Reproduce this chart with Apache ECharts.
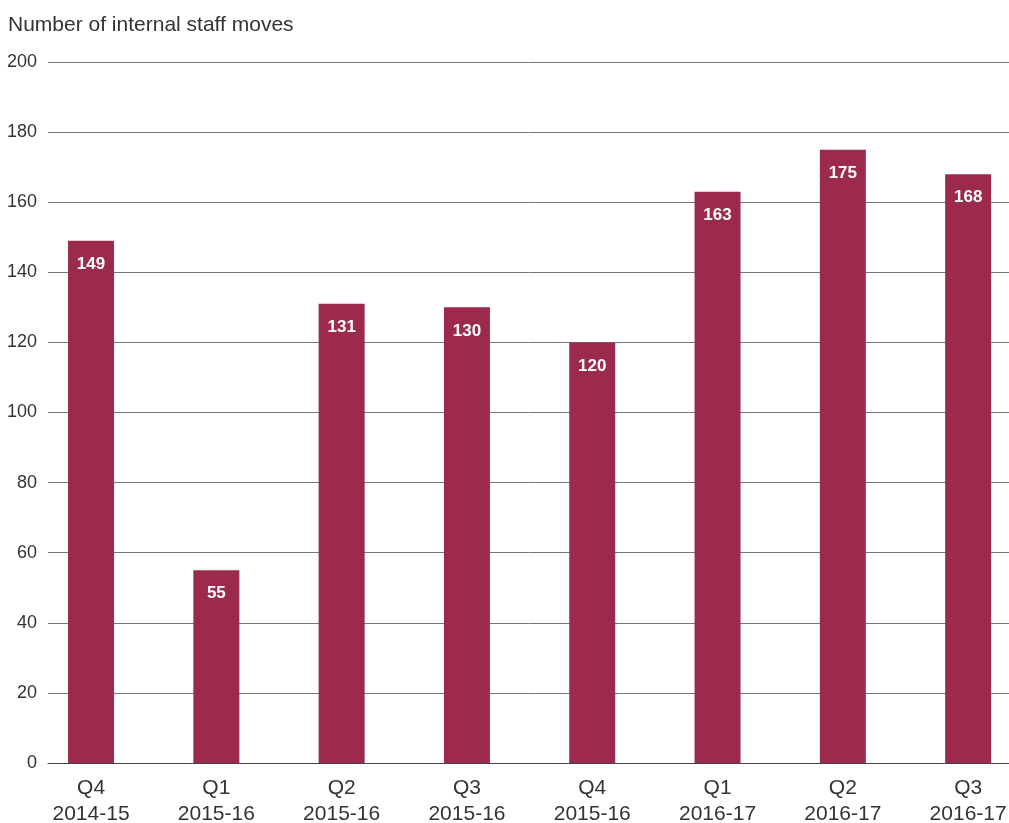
<!DOCTYPE html>
<html>
<head>
<meta charset="utf-8">
<script src="https://cdn.jsdelivr.net/npm/echarts@6/dist/echarts.min.js"></script>
<style>
  html, body { margin: 0; padding: 0; background: #fff; }
  #chart { width: 1009px; height: 823px; }
</style>
</head>
<body>
<div id="chart"></div>
<script>
// quarters shown on the x axis
var categories = ['Q4\n2014-15', 'Q1\n2015-16', 'Q2\n2015-16', 'Q3\n2015-16',
                  'Q4\n2015-16', 'Q1\n2016-17', 'Q2\n2016-17', 'Q3\n2016-17'];
// number of moves per quarter
var moves = [149, 55, 131, 130, 120, 163, 175, 168];
var yMin = 0, yMax = 200, yStep = 20;

var font = '"Liberation Sans", Arial, Helvetica, sans-serif';
var chart = echarts.init(document.getElementById('chart'));

var option = {
  animation: false,
  textStyle: { fontFamily: font },
  title: {
    text: 'Number of internal staff moves',
    left: 3, top: 10,
    textStyle: { fontSize: 21, fontWeight: 'normal', color: '#333', fontFamily: font }
  },
  // grid 0 carries the gridlines, grid 1 the bars (bars are spread wider than the lines)
  grid: [
    { left: 48, width: 961, top: 62, height: 701, outerBoundsMode: 'none', containLabel: false },
    { left: 28.4, width: 1002.4, top: 62, height: 701, outerBoundsMode: 'none', containLabel: false }
  ],
  xAxis: [
    {
      gridIndex: 0, type: 'value', min: 0, max: 1,
      axisLine: { show: true, lineStyle: { color: '#444', width: 1 } },
      axisTick: { show: false }, axisLabel: { show: false }, splitLine: { show: false }
    },
    {
      gridIndex: 1, type: 'category', data: categories,
      axisLine: { show: false }, axisTick: { show: false },
      axisLabel: { fontSize: 21, color: '#333', margin: 12, lineHeight: 26, fontFamily: font }
    }
  ],
  yAxis: [
    {
      gridIndex: 0, type: 'value', min: yMin, max: yMax, interval: yStep,
      axisLine: { show: false }, axisTick: { show: false },
      axisLabel: { fontSize: 18, color: '#333', margin: 11, fontFamily: font },
      splitLine: { lineStyle: { color: '#777', width: 1 } }
    },
    { gridIndex: 1, type: 'value', min: yMin, max: yMax, interval: yStep, show: false }
  ],
  series: [{
    type: 'bar',
    xAxisIndex: 1, yAxisIndex: 1,
    data: moves,
    barWidth: 46,
    itemStyle: { color: '#9c2a4c' },
    label: {
      show: true, position: 'insideTop', distance: 15,
      color: '#fff', fontSize: 17, fontWeight: 'bold', fontFamily: font
    }
  }]
};
chart.setOption(option);
</script>
</body>
</html>
